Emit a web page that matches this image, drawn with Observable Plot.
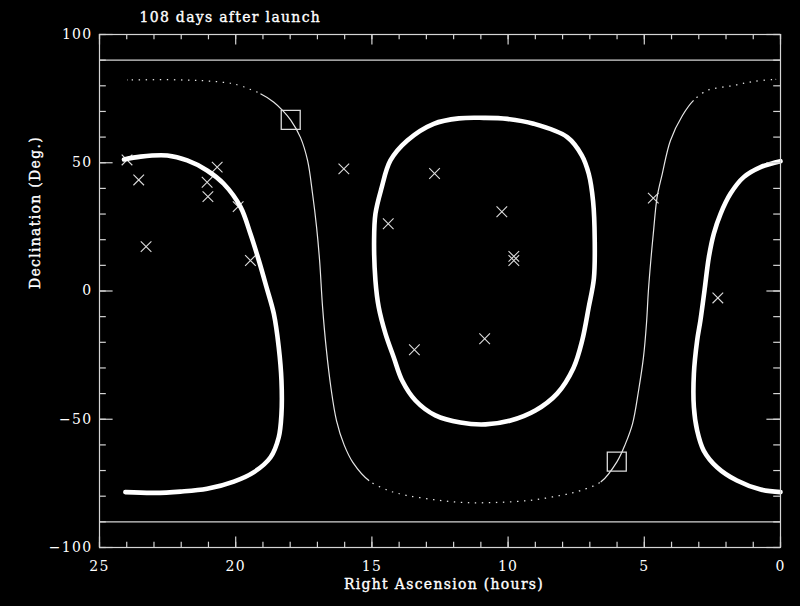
<!DOCTYPE html>
<html>
<head>
<meta charset="utf-8">
<script src="https://cdn.jsdelivr.net/npm/d3@7"></script>
<script src="https://cdn.jsdelivr.net/npm/@observablehq/plot@0.6"></script>
<style>
  html, body { margin: 0; padding: 0; background: #000; }
  #chart svg { display: block; }
</style>
</head>
<body>
<div id="chart"></div>
<script>
// Text
const title = "108 days after launch";
const xTitle = "Right Ascension (hours)";
const yTitle = "Declination (Deg.)";

// Axis tick values
const xTickLabels = [25, 20, 15, 10, 5, 0];
const yTickLabels = [-100, -50, 0, 50, 100];
const xMinorTicks = d3.range(0, 26);
const yMinorTicks = d3.range(-100, 101, 10);

// Declination limits
const decLimits = [90, -90];

// Great-circle track (hours, degrees)
const trackRA  = [23.97, 22.5, 21.2, 20.08, 19.09, 18.6, 18.28, 17.98, 17.62, 17.36, 17.18, 17.03, 16.92, 16.81, 16.68, 16.5, 16.3, 16.02, 15.7, 15.1, 14.4, 13.7, 12.6, 11.5, 10.3, 9.1, 8.07, 7.34, 6.6, 6.0, 5.69, 5.43, 5.21, 5.03, 4.92, 4.85, 4.76, 4.67, 4.53, 4.34, 4.04, 3.6, 3.19, 2.69, 1.73, 0.99, 0.18];
const trackDec = [82.3, 82.4, 82.0, 80.8, 76.9, 73.6, 70.4, 66.6, 59.8, 50.8, 38.0, 24.8, 11.9, -6.4, -22.0, -38.0, -50.5, -60.0, -66.8, -74.0, -77.8, -79.8, -81.5, -82.5, -82.4, -81.5, -79.7, -77.8, -74.5, -66.5, -59.5, -51.7, -38.8, -25.8, -12.7, 0.0, 12.0, 22.3, 36.6, 45.7, 58.7, 68.4, 74.3, 78.2, 80.1, 81.7, 82.5];

// Contour wrapping through RA 24h / 0h: left and right pieces
const wrapLeftRA  = [24.1, 23.49, 22.51, 21.78, 21.05, 20.44, 19.82, 19.46, 19.15, 18.87, 18.6, 18.42, 18.32, 18.32, 18.42, 18.72, 19.33, 20.07, 21.05, 22.03, 23.0, 24.05];
const wrapLeftDec = [51.3, 52.4, 52.8, 50.9, 47.0, 41.8, 32.7, 22.3, 11.9, 1.5, -8.9, -21.9, -34.9, -47.9, -57.0, -64.8, -70.6, -74.3, -77.1, -78.2, -78.7, -78.4];
const wrapRightRA  = [0, 0.73, 1.35, 1.84, 2.2, 2.45, 2.63, 2.79, 2.94, 3.06, 3.18, 3.18, 3.06, 2.82, 2.33, 1.6, 0.73, 0];
const wrapRightDec = [50.6, 48.3, 44.4, 37.9, 30.1, 22.3, 13.2, 0.2, -11.5, -19.3, -32.3, -45.3, -54.4, -62.2, -68.7, -73.9, -77.4, -78.4];

// Closed contour in the middle of the sky
const ovalRA  = [10.89, 10.03, 9.06, 7.83, 7.3, 7.04, 6.88, 6.82, 6.85, 7.04, 7.28, 7.6, 8.2, 9.0, 9.91, 10.83, 11.75, 12.67, 13.4, 13.89, 14.2, 14.5, 14.75, 14.87, 14.92, 14.87, 14.65, 14.32, 13.7, 12.73, 11.8];
const ovalDec = [67.5, 67.1, 65.2, 60.0, 53.0, 45.7, 35.0, 20.0, 5.0, -6.3, -19.3, -30.0, -40.0, -46.6, -50.5, -52.0, -51.3, -48.5, -42.7, -34.9, -25.8, -16.7, -6.3, 4.1, 19.7, 30.1, 40.0, 50.9, 58.7, 65.2, 67.3];

// Sources (crosses)
const sourceRA  = [23.99, 23.56, 23.29, 21.05, 21.02, 20.68, 19.91, 19.46, 16.03, 14.4, 12.7, 10.23, 9.79, 9.79, 13.44, 10.86, 4.67, 2.3];
const sourceDec = [51.1, 43.3, 17.3, 42.4, 36.8, 48.3, 32.9, 11.9, 47.6, 26.2, 45.8, 30.9, 13.5, 11.9, -22.9, -18.6, 36.2, -2.7];

// Marked positions (squares)
const boxRA  = [17.98, 6.01];
const boxDec = [66.7, -66.5];

// ---- build tables ----
const track = trackRA.map((ra, i) => ({ra, dec: trackDec[i]}));
// near-pole stretches of the track, drawn dotted
const flatRows = [];
let run = -1, prevFlat = false;
for (let i = 0; i < track.length - 1; i++) {
  const a = track[i], b = track[i + 1];
  const flat = Math.min(Math.abs(a.dec), Math.abs(b.dec)) >= 74;
  if (flat && !prevFlat) { run++; flatRows.push({...a, run}); }
  if (flat) flatRows.push({...b, run});
  prevFlat = flat;
}
const wrap = [
  ...wrapLeftRA.map((ra, i) => ({ra, dec: wrapLeftDec[i], part: "left"})),
  ...wrapRightRA.map((ra, i) => ({ra, dec: wrapRightDec[i], part: "right"}))
];
const oval = ovalRA.map((ra, i) => ({ra, dec: ovalDec[i]}));
const sources = sourceRA.map((ra, i) => ({ra, dec: sourceDec[i]}));
const boxes = boxRA.map((ra, i) => ({ra, dec: boxDec[i]}));

// ---- layout ----
const W = 800, H = 606;
const mL = 99, mR = 20, mT = 34, mB = 59;
const FW = W - mL - mR, FH = H - mT - mB;
const axisColor = "#d4d4d4";
const xMajorLen = 10.5, xMinorLen = 5.3, yMajorLen = 13.6, yMinorLen = 6.8;
const minus = d => d < 0 ? "\u2212" + Math.abs(d) : String(d);
const textStyle = {fill: "#fff", stroke: "#fff", strokeWidth: 0.35, fontSize: 14};

const chart = Plot.plot({
  width: W, height: H,
  marginLeft: mL, marginRight: mR, marginTop: mT, marginBottom: mB,
  style: {background: "#000", color: "#fff", fontFamily: "'DejaVu Serif', serif", fontSize: "14px", letterSpacing: "1.3px"},
  x: {domain: [25, 0]},
  y: {domain: [-100, 100]},
  marks: [
    // track: solid, then the near-pole stretches broken into dots
    Plot.line(track, {x: "ra", y: "dec", curve: "catmull-rom", stroke: "#e6e6e6", strokeWidth: 1.2}),
    Plot.line(flatRows, {x: "ra", y: "dec", z: "run", curve: "catmull-rom", stroke: "#000", strokeWidth: 3.5, strokeLinecap: "butt", strokeDasharray: "5.6 1.4", strokeDashoffset: 1.4}),
    // declination limits
    Plot.ruleY(decLimits, {stroke: axisColor, strokeWidth: 1.2}),
    // sources and marked positions
    Plot.dot(sources, {x: "ra", y: "dec", symbol: "times", r: 4.9, stroke: "#dcdcdc", strokeWidth: 1.1}),
    Plot.dot(boxes, {x: "ra", y: "dec", symbol: "square", r: 10.7, stroke: "#dcdcdc", strokeWidth: 1.3, fill: "none"}),
    // contours
    Plot.line(wrap, {x: "ra", y: "dec", z: "part", curve: "catmull-rom", stroke: "#fff", strokeWidth: 4.6}),
    Plot.line(oval, {x: "ra", y: "dec", curve: "catmull-rom-closed", stroke: "#fff", strokeWidth: 4.6}),
    // box with ticks on all four sides
    Plot.frame({stroke: axisColor, strokeWidth: 1.2}),
    Plot.ruleX(xTickLabels, {stroke: axisColor, strokeWidth: 1.2, insetTop: FH - xMajorLen}),
    Plot.ruleX(xTickLabels, {stroke: axisColor, strokeWidth: 1.2, insetBottom: FH - xMajorLen}),
    Plot.ruleX(xMinorTicks, {stroke: axisColor, strokeWidth: 1.2, insetTop: FH - xMinorLen}),
    Plot.ruleX(xMinorTicks, {stroke: axisColor, strokeWidth: 1.2, insetBottom: FH - xMinorLen}),
    Plot.ruleY(yTickLabels, {stroke: axisColor, strokeWidth: 1.2, insetRight: FW - yMajorLen}),
    Plot.ruleY(yTickLabels, {stroke: axisColor, strokeWidth: 1.2, insetLeft: FW - yMajorLen}),
    Plot.ruleY(yMinorTicks, {stroke: axisColor, strokeWidth: 1.2, insetRight: FW - yMinorLen}),
    Plot.ruleY(yMinorTicks, {stroke: axisColor, strokeWidth: 1.2, insetLeft: FW - yMinorLen}),
    // tick labels
    Plot.axisX({anchor: "bottom", ticks: xTickLabels, tickSize: 0, tickPadding: 14, tickFormat: minus, label: null, ...textStyle}),
    Plot.axisY({anchor: "left", ticks: yTickLabels, tickSize: 0, tickPadding: 7, tickFormat: minus, label: null, ...textStyle}),
    // titles
    Plot.text([title], {frameAnchor: "top-left", textAnchor: "start", lineAnchor: "middle", dx: 40, dy: -17, ...textStyle}),
    Plot.text([xTitle], {frameAnchor: "bottom", lineAnchor: "middle", dx: 4, dy: 37, ...textStyle}),
    Plot.text([yTitle], {frameAnchor: "left", lineAnchor: "middle", rotate: -90, dx: -64, dy: -2, ...textStyle})
  ]
});
document.getElementById("chart").append(chart);
</script>
</body>
</html>
